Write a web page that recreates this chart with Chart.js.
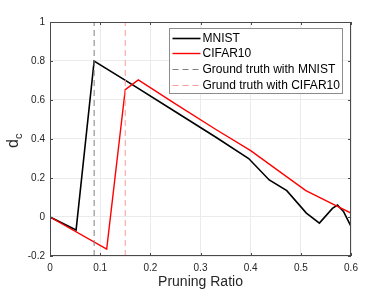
<!DOCTYPE html>
<html lang="en">
<head>
    <meta charset="UTF-8">
    <title>d_c vs Pruning Ratio</title>
    <script src="https://cdn.jsdelivr.net/npm/chart.js"></script>
    <style>
        html, body { margin: 0; padding: 0; background: #ffffff; }
        #wrap { width: 388px; height: 291px; }
    </style>
</head>
<body>
    <div id="wrap"><canvas id="chart" width="388" height="291"></canvas></div>
    <script>
        // Curve values
        const mnistX = [0, 0.052, 0.088, 0.16, 0.25, 0.33, 0.396, 0.437, 0.472, 0.511, 0.537, 0.563, 0.573, 0.585, 0.6];
        const mnistY = [0, -0.067, 0.80, 0.685, 0.54, 0.41, 0.30, 0.19, 0.135, 0.02, -0.031, 0.044, 0.061, 0.029, -0.048];

        const cifarX = [0, 0.113, 0.15, 0.176, 0.25, 0.33, 0.40, 0.51, 0.57, 0.6];
        const cifarY = [0, -0.165, 0.653, 0.703, 0.58, 0.45, 0.34, 0.135, 0.058, 0.02];

        // Ground truth pruning ratios (vertical dashed lines)
        const truthMnist = 0.088;
        const truthCifar = 0.15;

        const xTicks = [0, 0.1, 0.2, 0.3, 0.4, 0.5, 0.6];
        const yTicks = [-0.2, 0, 0.2, 0.4, 0.6, 0.8, 1];

        const labels = ['MNIST', 'CIFAR10', 'Ground truth with MNIST', 'Grund truth with CIFAR10'];

        const FONT = '"Liberation Sans", Arial, sans-serif';
        const yMin = yTicks[0], yMax = yTicks[yTicks.length - 1];

        function pts(xs, ys) {
            return xs.map((x, i) => ({ x: x, y: ys[i] }));
        }

        // y-axis title with subscript, inward ticks, box, legend
        const extras = {
            id: 'extras',
            afterDatasetsDraw(chart) {
                const ctx = chart.ctx;
                const a = chart.chartArea;
                const xs = chart.scales.x, ys = chart.scales.y;
                ctx.save();
                // box
                ctx.strokeStyle = '#4a4a4a';
                ctx.lineWidth = 1;
                ctx.strokeRect(a.left + 0.5, a.top + 0.5, a.right - a.left - 1, a.bottom - a.top - 1);
                // inward ticks
                ctx.beginPath();
                xTicks.forEach(v => {
                    const p = Math.round(xs.getPixelForValue(v)) + 0.5;
                    ctx.moveTo(p, a.bottom); ctx.lineTo(p, a.bottom - 3);
                    ctx.moveTo(p, a.top); ctx.lineTo(p, a.top + 3);
                });
                yTicks.forEach(v => {
                    const p = Math.round(ys.getPixelForValue(v)) + 0.5;
                    ctx.moveTo(a.left, p); ctx.lineTo(a.left + 3, p);
                    ctx.moveTo(a.right, p); ctx.lineTo(a.right - 3, p);
                });
                ctx.stroke();

                // y title: d with subscript c
                ctx.translate(18, 144);
                ctx.rotate(-Math.PI / 2);
                ctx.fillStyle = '#262626';
                ctx.textBaseline = 'alphabetic';
                ctx.font = '16px ' + FONT;
                ctx.fillText('d', -4, 0);
                const dw = ctx.measureText('d').width;
                ctx.font = '11px ' + FONT;
                ctx.fillText('c', -4 + dw, 4);
                ctx.setTransform(1, 0, 0, 1, 0, 0);

                // legend box
                const lx = 169.5, ly = 28.5, lw = 173, lh = 65;
                ctx.fillStyle = '#ffffff';
                ctx.fillRect(lx, ly, lw, lh);
                ctx.strokeStyle = '#8c8c8c';
                ctx.strokeRect(lx, ly, lw, lh);
                ctx.font = '12px ' + FONT;
                ctx.textBaseline = 'middle';
                chart.data.datasets.forEach((ds, i) => {
                    const cy = Math.round(ly + 9 + i * 15.7) + 0.5;
                    ctx.beginPath();
                    ctx.strokeStyle = ds.borderColor;
                    ctx.lineWidth = ds.borderWidth;
                    ctx.setLineDash(ds.borderDash || []);
                    ctx.moveTo(lx + 3, cy); ctx.lineTo(lx + 31, cy);
                    ctx.stroke();
                    ctx.setLineDash([]);
                    ctx.fillStyle = '#000000';
                    ctx.fillText(ds.label, lx + 33, cy);
                });
                ctx.restore();
            }
        };

        const config = {
            type: 'scatter',
            data: {
                datasets: [{
                    label: labels[0],
                    data: pts(mnistX, mnistY),
                    showLine: true,
                    borderColor: '#000000',
                    borderWidth: 1.6,
                    pointRadius: 0,
                    order: 4
                }, {
                    label: labels[1],
                    data: pts(cifarX, cifarY),
                    showLine: true,
                    borderColor: '#ff0000',
                    borderWidth: 1.4,
                    pointRadius: 0,
                    order: 3
                }, {
                    label: labels[2],
                    data: [{ x: truthMnist, y: yMin }, { x: truthMnist, y: yMax }],
                    showLine: true,
                    borderColor: '#808080',
                    borderWidth: 1,
                    borderDash: [6, 4],
                    pointRadius: 0,
                    order: 2
                }, {
                    label: labels[3],
                    data: [{ x: truthCifar, y: yMin }, { x: truthCifar, y: yMax }],
                    showLine: true,
                    borderColor: '#ff9a9a',
                    borderWidth: 1,
                    borderDash: [6, 4],
                    pointRadius: 0,
                    order: 1
                }]
            },
            options: {
                responsive: false,
                animation: false,
                layout: { padding: { left: 0, right: 37, top: 22, bottom: 0 } },
                plugins: {
                    legend: { display: false },
                    tooltip: { enabled: false }
                },
                scales: {
                    x: {
                        type: 'linear',
                        min: 0,
                        max: 0.6,
                        afterBuildTicks(scale) { scale.ticks = xTicks.map(v => ({ value: v })); },
                        afterFit(scale) { scale.height = 35; },
                        border: { display: false },
                        grid: { color: '#ebebeb', drawTicks: false },
                        ticks: {
                            padding: 6,
                            color: '#262626',
                            font: { family: FONT, size: 10 },
                            maxRotation: 0,
                            callback: v => String(v)
                        },
                        title: {
                            display: true,
                            text: 'Pruning Ratio',
                            color: '#262626',
                            font: { family: FONT, size: 14 },
                            padding: { top: 0, bottom: 0 }
                        }
                    },
                    y: {
                        type: 'linear',
                        min: yMin,
                        max: yMax,
                        afterBuildTicks(scale) { scale.ticks = yTicks.map(v => ({ value: v })); },
                        afterFit(scale) { scale.width = 50; },
                        border: { display: false },
                        grid: { color: '#ebebeb', drawTicks: false },
                        ticks: {
                            padding: 5,
                            color: '#262626',
                            font: { family: FONT, size: 10 },
                            callback: v => String(Math.round(v * 10) / 10)
                        }
                    }
                }
            },
            plugins: [extras]
        };

        new Chart(document.getElementById('chart'), config);
    </script>
</body>
</html>
